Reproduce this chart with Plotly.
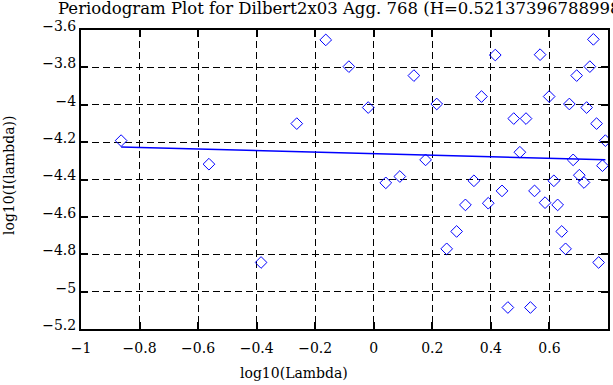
import plotly.graph_objects as go

# periodogram points (log10 lambda, log10 I(lambda))
pts_x = [-0.863, -0.563, -0.385, -0.263, -0.164, -0.085, -0.019, 0.041, 0.089, 0.137,
         0.177, 0.215, 0.249, 0.283, 0.313, 0.342, 0.368, 0.391, 0.415, 0.438,
         0.458, 0.478, 0.499, 0.520, 0.535, 0.549, 0.568, 0.585, 0.599, 0.615,
         0.628, 0.642, 0.655, 0.668, 0.681, 0.693, 0.702, 0.718, 0.727, 0.738,
         0.750, 0.761, 0.768, 0.781, 0.791]
pts_y = [-4.192, -4.318, -4.844, -4.101, -3.653, -3.796, -4.015, -4.418, -4.384, -3.844,
         -4.295, -3.996, -4.771, -4.678, -4.536, -4.407, -3.956, -4.527, -3.734, -4.461,
         -5.085, -4.074, -4.254, -4.074, -5.085, -4.461, -3.732, -4.524, -3.956, -4.407,
         -4.536, -4.678, -4.771, -3.996, -4.295, -3.844, -4.377, -4.416, -4.015, -3.796,
         -3.650, -4.101, -4.844, -4.326, -4.192]

# least squares fit line endpoints
fit_x = [-0.863, 0.791]
fit_y = [-4.226, -4.294]

title_text = "Periodogram Plot for Dilbert2x03 Agg. 768 (H=0.521373967889988)"
x_ticks = [-1, -0.8, -0.6, -0.4, -0.2, 0, 0.2, 0.4, 0.6, 0.8]
x_labels = ["\u22121", "\u22120.8", "\u22120.6", "\u22120.4", "\u22120.2", "0", "0.2", "0.4", "0.6", "0.8"]
y_ticks = [-5.2, -5.0, -4.8, -4.6, -4.4, -4.2, -4.0, -3.8, -3.6]
y_labels = ["\u22125.2", "\u22125", "\u22124.8", "\u22124.6", "\u22124.4", "\u22124.2", "\u22124", "\u22123.8", "\u22123.6"]

font_family = "DejaVu Serif"
W, H = 613, 385
L, R, T, B = 81, 5, 30, 56

fig = go.Figure()
fig.add_trace(go.Scatter(
    x=pts_x, y=pts_y, mode="markers",
    marker=dict(symbol="diamond-open", size=9, color="#0000ff", line=dict(width=1, color="#0000ff")),
    showlegend=False, hoverinfo="skip"))
fig.add_trace(go.Scatter(
    x=fit_x, y=fit_y, mode="lines",
    line=dict(color="#0000ff", width=1.5),
    showlegend=False, hoverinfo="skip"))

axis_common = dict(
    showline=True, linecolor="black", linewidth=2, mirror="ticks",
    ticks="inside", ticklen=7, tickwidth=1.5, tickcolor="black",
    showgrid=True, gridcolor="black", gridwidth=1, griddash="7px,4px",
    zeroline=False, automargin=False,
    tickfont=dict(family=font_family, size=14, color="black"),
)

fig.update_xaxes(range=[-1, 0.8], tickvals=x_ticks, ticktext=x_labels,
                 ticklabelstandoff=5, **axis_common)
fig.update_yaxes(range=[-5.2, -3.6], tickvals=y_ticks, ticktext=y_labels,
                 ticklabelshift=-4, **axis_common)

pw = W - L - R
ph = H - T - B

def px_to_paper_x(px):
    return (px - L) / pw

def px_to_paper_y(py):
    return (H - B - py) / ph

fig.add_annotation(text=title_text, xref="paper", yref="paper",
                   x=px_to_paper_x(56), y=px_to_paper_y(8),
                   xanchor="left", yanchor="middle", showarrow=False,
                   font=dict(family=font_family, size=16.5, color="black"))
fig.add_annotation(text="log10(Lambda)", xref="paper", yref="paper",
                   x=px_to_paper_x(294), y=px_to_paper_y(373),
                   xanchor="center", yanchor="middle", showarrow=False,
                   font=dict(family=font_family, size=14, color="black"))
fig.add_annotation(text="log10(I(lambda))", xref="paper", yref="paper",
                   x=px_to_paper_x(9), y=px_to_paper_y(176), textangle=-90,
                   xanchor="center", yanchor="middle", showarrow=False,
                   font=dict(family=font_family, size=14, color="black"))

fig.update_layout(
    width=W, height=H,
    margin=dict(l=L, r=R, t=T, b=B, autoexpand=False),
    plot_bgcolor="white", paper_bgcolor="white",
)

fig.write_html("out.html", config={"displayModeBar": False},
               post_script="document.body.style.margin='0';")
